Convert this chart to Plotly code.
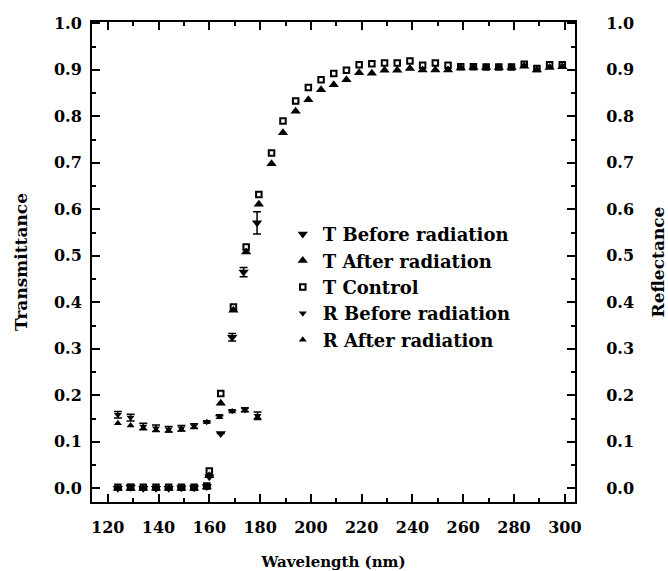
import plotly.graph_objects as go

# wavelengths (nm) and values
r_wavelength = [124, 129, 134, 139, 144, 149, 154, 159, 164, 169, 174, 179]
r_before = [0.158, 0.152, 0.133, 0.129, 0.127, 0.129, 0.134, 0.143, 0.156, 0.167, 0.169, 0.156]
r_before_err = [0.007, 0.007, 0.007, 0.007, 0.006, 0.006, 0.005, 0, 0, 0, 0.004, 0.008]
r_after = [0.140, 0.135, 0.129, 0.125, 0.124, 0.126, 0.131, 0.142, 0.153, 0.165, 0.167, 0.153]

t_before_wavelength = [124, 129, 134, 139, 144, 149, 154, 159, 160, 164.5, 169, 173.5, 178.8]
t_before = [0.0, 0.002, 0.0, 0.0, 0.0, 0.001, 0.001, 0.004, 0.025, 0.118, 0.325, 0.465, 0.571]
t_before_err = [0, 0.006, 0, 0, 0, 0, 0, 0, 0, 0, 0.008, 0.010, 0.024]

t_wavelength = [124, 129, 134, 139, 144, 149, 154, 159, 160, 164.5, 169.5, 174.5, 179.5,
                184.5, 189, 194, 199, 204, 209, 214, 219, 224, 229, 234, 239, 244, 249,
                254, 259, 264, 269, 274, 279, 284, 289, 294, 299]
t_after = [0.0, 0.0, 0.0, 0.0, 0.0, 0.0, 0.0, 0.003, 0.027, 0.183, 0.383, 0.508, 0.611,
           0.698, 0.765, 0.811, 0.836, 0.857, 0.868, 0.879, 0.894, 0.893, 0.899, 0.899,
           0.903, 0.900, 0.900, 0.900, 0.904, 0.905, 0.905, 0.905, 0.905, 0.908, 0.900,
           0.905, 0.907]
t_control = [0.002, 0.002, 0.002, 0.002, 0.002, 0.002, 0.002, 0.005, 0.037, 0.204, 0.390,
             0.519, 0.632, 0.721, 0.790, 0.833, 0.862, 0.879, 0.892, 0.899, 0.911, 0.913,
             0.915, 0.915, 0.919, 0.910, 0.915, 0.910, 0.907, 0.907, 0.906, 0.906, 0.906,
             0.912, 0.903, 0.911, 0.911]

x_ticks = list(range(120, 301, 20))
y_ticks = [i / 10 for i in range(11)]

font_family = "DejaVu Serif"
black = "#000000"

fig = go.Figure()

err_style = dict(type='data', thickness=1.5, width=4, color=black)

fig.add_trace(go.Scatter(
    x=t_before_wavelength, y=t_before,
    mode='markers', name='T Before radiation',
    marker=dict(symbol='triangle-down', size=9, color=black),
    error_y=dict(array=t_before_err, **err_style)
))
fig.add_trace(go.Scatter(
    x=t_wavelength, y=t_after,
    mode='markers', name='T After radiation',
    marker=dict(symbol='triangle-up', size=9, color=black)
))
fig.add_trace(go.Scatter(
    x=t_wavelength, y=t_control,
    mode='markers', name='T Control',
    marker=dict(symbol='square-open', size=5.5, color=black, line=dict(width=2, color=black))
))
fig.add_trace(go.Scatter(
    x=r_wavelength, y=r_before,
    mode='markers', name='R Before radiation',
    marker=dict(symbol='triangle-down', size=7, color=black),
    error_y=dict(array=r_before_err, **err_style)
))
fig.add_trace(go.Scatter(
    x=r_wavelength, y=r_after,
    mode='markers', name='R After radiation',
    marker=dict(symbol='triangle-up', size=7, color=black)
))

axis_common = dict(
    showline=True, linewidth=2, linecolor=black,
    ticks='inside', ticklen=8, tickwidth=1.5, tickcolor=black,
    showgrid=False, zeroline=False, automargin=False,
    tickfont=dict(family=font_family, size=16, color=black, weight='bold'),
)
minor_y = dict(dtick=0.05, tick0=0, ticks='inside', ticklen=4, tickwidth=1.5, tickcolor=black)

fig.update_layout(
    width=668, height=571,
    paper_bgcolor='white', plot_bgcolor='white',
    margin=dict(l=92, r=93, t=22, b=69),
    font=dict(family=font_family, color=black),
    xaxis=dict(
        range=[113.8, 304], tickvals=x_ticks, mirror='ticks',
        minor=dict(dtick=10, tick0=120, ticks='inside', ticklen=4, tickwidth=1.5, tickcolor=black),
        ticklabelstandoff=10,
        title=dict(text='<b>Wavelength (nm)</b>', font=dict(size=15, family=font_family), standoff=24),
        **axis_common
    ),
    yaxis=dict(
        range=[-0.0295, 1.003], tickvals=y_ticks, tickformat='.1f',
        minor=minor_y,
        ticklabelstandoff=5,
        title=dict(text='<b>Transmittance</b>', font=dict(size=17, family=font_family), standoff=22),
        **axis_common
    ),
    yaxis2=dict(
        range=[-0.0295, 1.003], tickvals=y_ticks, tickformat='.1f',
        overlaying='y', side='right',
        minor=minor_y,
        ticklabelstandoff=26,
        title=dict(text='<b>Reflectance</b>', font=dict(size=17, family=font_family), standoff=24),
        **axis_common
    ),
    legend=dict(
        x=0.395, y=0.596, xanchor='left', yanchor='top',
        bgcolor='rgba(0,0,0,0)',
        font=dict(family=font_family, size=18, color=black, weight='bold'),
        itemsizing='trace'
    ),
    showlegend=True
)

# invisible trace so the right axis is drawn
fig.add_trace(go.Scatter(x=[200], y=[0.5], yaxis='y2', mode='markers',
                         marker=dict(opacity=0), showlegend=False, hoverinfo='skip'))

fig.write_html("out.html", config={'displayModeBar': False},
               post_script="document.body.style.margin='0px';")
